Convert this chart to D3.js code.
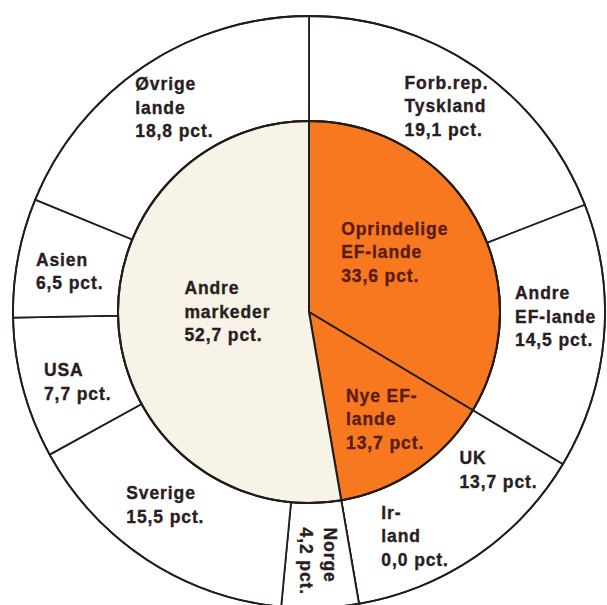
<!DOCTYPE html>
<html>
<head>
<meta charset="utf-8" />
<script src="https://d3js.org/d3.v7.min.js"></script>
<style>
  body { margin: 0; background: #fff; }
  .lbl { font-family: "Liberation Sans", Arial, sans-serif; font-weight: bold; font-size: 17.5px; letter-spacing: 0.9px; stroke-width: 0.35px; }
</style>
</head>
<body>
<div id="chart"></div>
<script>
// inner pie: markets
var innerNames = ["Oprindelige EF-lande", "Nye EF-lande", "Andre markeder"];
var innerValues = [33.6, 13.7, 52.7];
var innerLabels = [
  ["Oprindelige", "EF-lande", "33,6 pct."],
  ["Nye EF-", "lande", "13,7 pct."],
  ["Andre", "markeder", "52,7 pct."]
];

// outer ring: countries
var outerNames = ["Forb.rep. Tyskland", "Andre EF-lande", "UK", "Irland", "Norge", "Sverige", "USA", "Asien", "Øvrige lande"];
var outerValues = [19.1, 14.5, 13.7, 0.0, 4.2, 15.5, 7.7, 6.5, 18.8];
var outerLabels = [
  ["Forb.rep.", "Tyskland", "19,1 pct."],
  ["Andre", "EF-lande", "14,5 pct."],
  ["UK", "13,7 pct."],
  ["Ir-", "land", "0,0 pct."],
  ["Norge", "4,2 pct."],
  ["Sverige", "15,5 pct."],
  ["USA", "7,7 pct."],
  ["Asien", "6,5 pct."],
  ["Øvrige", "lande", "18,8 pct."]
];

var width = 607, height = 605;
var cx = 309, cy = 312;
var R = 296, r = 191;
var lineH = 23.5, capH = 12.5;

var innerColor = ["#f8781f", "#f8781f", "#f7f3e6"];
var innerText = ["#5a1c16", "#5a1c16", "#2a1d1f"];

// label nudges from the arc centroid (px)
var innerNudge = [[-10, -6], [14, 16], [28, -10]];
var outerNudge = [[0, -5], [4, -16], [52, -43], [65, -16], [0, 6], [-10, -11], [4, 7], [0, 4], [1, -2]];

var svg = d3.select("#chart").append("svg")
  .attr("width", width)
  .attr("height", height);

var g = svg.append("g")
  .attr("transform", "translate(" + cx + "," + cy + ")");

var pie = d3.pie().sort(null).value(function(d) { return d; });

var outerArcs = pie(outerValues);
var innerArcs = pie(innerValues);

var outerArc = d3.arc().innerRadius(r).outerRadius(R);
var innerArc = d3.arc().innerRadius(0).outerRadius(r);

// outer ring
g.append("g").selectAll("path")
  .data(outerArcs)
  .enter().append("path")
    .attr("d", outerArc)
    .style("fill", "#fff")
    .style("stroke", "#231c1c")
    .style("stroke-width", 1.8)
    .style("stroke-linejoin", "round");

// inner pie
g.append("g").selectAll("path")
  .data(innerArcs)
  .enter().append("path")
    .attr("d", innerArc)
    .style("fill", function(d, i) { return innerColor[i]; })
    .style("stroke", "#231c1c")
    .style("stroke-width", 2)
    .style("stroke-linejoin", "round");

// outlines on top
g.append("circle").attr("r", r).style("fill", "none").style("stroke", "#231c1c").style("stroke-width", 2);
g.append("circle").attr("r", R).style("fill", "none").style("stroke", "#231c1c").style("stroke-width", 1.8);

function addLabel(lines, pos, color, rotate) {
  var t = g.append("text")
    .attr("class", "lbl")
    .style("fill", color)
    .style("stroke", color);
  lines.forEach(function(s, k) {
    t.append("tspan").attr("x", 0).attr("dy", k === 0 ? 0 : lineH).text(s);
  });
  var maxW = 0;
  t.selectAll("tspan").each(function() { maxW = Math.max(maxW, this.getComputedTextLength()); });
  var n = lines.length;
  var b1 = -((n - 1) * lineH - capH) / 2;
  t.selectAll("tspan").attr("x", -maxW / 2);
  t.select("tspan").attr("y", b1);
  t.attr("transform", "translate(" + pos[0] + "," + pos[1] + ")" + (rotate ? " rotate(" + rotate + ")" : ""));
}

var innerLabelArc = d3.arc().innerRadius(110).outerRadius(110);
innerArcs.forEach(function(d, i) {
  var c = innerLabelArc.centroid(d);
  addLabel(innerLabels[i], [c[0] + innerNudge[i][0], c[1] + innerNudge[i][1]], innerText[i], 0);
});

var outerLabelArc = d3.arc().innerRadius((r + R) / 2).outerRadius((r + R) / 2);
outerArcs.forEach(function(d, i) {
  var c = outerLabelArc.centroid(d);
  var rot = outerNames[i] === "Norge" ? 90 : 0;
  addLabel(outerLabels[i], [c[0] + outerNudge[i][0], c[1] + outerNudge[i][1]], "#2a1d1f", rot);
});
</script>
</body>
</html>
